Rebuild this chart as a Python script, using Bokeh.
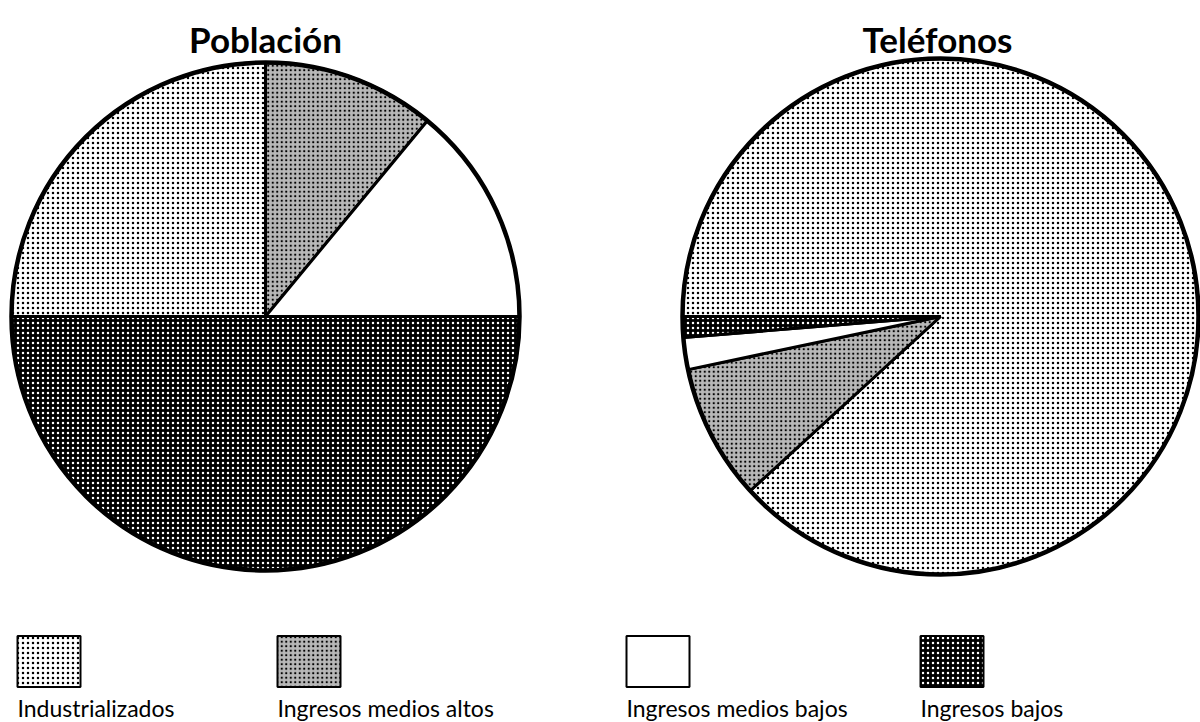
import numpy as np
from bokeh.plotting import figure
from bokeh.models import ColumnDataSource
from bokeh.core.properties import value
from bokeh.embed import file_html
from bokeh.resources import INLINE

# Shares (%) by country group
categories = ["Industrializados", "Ingresos medios altos",
              "Ingresos medios bajos", "Ingresos bajos"]
poblacion = [25.0, 11.0, 14.0, 50.0]
telefonos = [88.2, 8.5, 2.0, 1.3]
titles = ["Población", "Teléfonos"]

# Halftone-like fills per group
fill_colors = ["white", "#b8b8b8", "white", "black"]
hatch_patterns = ["dot", "dot", " ", "dot"]
hatch_colors = ["black", "black", "black", "white"]
hatch_scales = [5.0, 4.5, 5.0, 5.0]

W, H = 1200, 722
FONT = value("Lato")

p = figure(width=W, height=H, x_range=(0, W), y_range=(0, H),
           toolbar_location=None, output_backend="svg", min_border=0)
p.axis.visible = False
p.grid.visible = False
p.outline_line_color = None
p.background_fill_color = "white"


def pie(values, cx, cy, r):
    frac = np.array(values, dtype=float) / sum(values)
    cum = np.concatenate([[0.0], np.cumsum(frac)])
    # slices start at 9 o'clock and run clockwise
    start = np.pi - cum[:-1] * 2 * np.pi
    end = np.pi - cum[1:] * 2 * np.pi
    src = ColumnDataSource(dict(
        start=start, end=end, fill=fill_colors, hp=hatch_patterns,
        hc=hatch_colors, hs=hatch_scales))
    p.wedge(x=cx, y=cy, radius=r, start_angle="start", end_angle="end",
            direction="clock", fill_color="fill", hatch_pattern="hp",
            hatch_color="hc", hatch_scale="hs",
            line_color="black", line_width=3, source=src)
    p.circle(x=[cx], y=[cy], radius=r, fill_color=None,
             line_color="black", line_width=4.5)


pie(poblacion, 265, H - 316, 254)
pie(telefonos, 940, H - 316, 258)

p.text(x=[265, 937], y=[H - 38, H - 38], text=titles, text_font=FONT,
       text_font_style="bold", text_font_size="35px", text_align="center",
       text_baseline="alphabetic", text_color="black")

# Legend
box_x = [17, 277, 626, 920]
box_w, box_h = 63, 51
leg = ColumnDataSource(dict(
    x=[bx + box_w / 2 for bx in box_x], y=[H - 661] * 4,
    lx=box_x, ly=[H - 707] * 4, label=categories,
    fill=fill_colors, hp=hatch_patterns, hc=hatch_colors,
    hs=hatch_scales))
p.rect(x="x", y="y", width=box_w, height=box_h, fill_color="fill",
       hatch_pattern="hp", hatch_color="hc", hatch_scale="hs",
       line_color="black", line_width=2, source=leg)
p.text(x="lx", y="ly", text="label", text_font=FONT, text_font_size="23px",
       text_baseline="alphabetic", text_color="black", source=leg)

open("out.html", "w").write(file_html(p, INLINE))
